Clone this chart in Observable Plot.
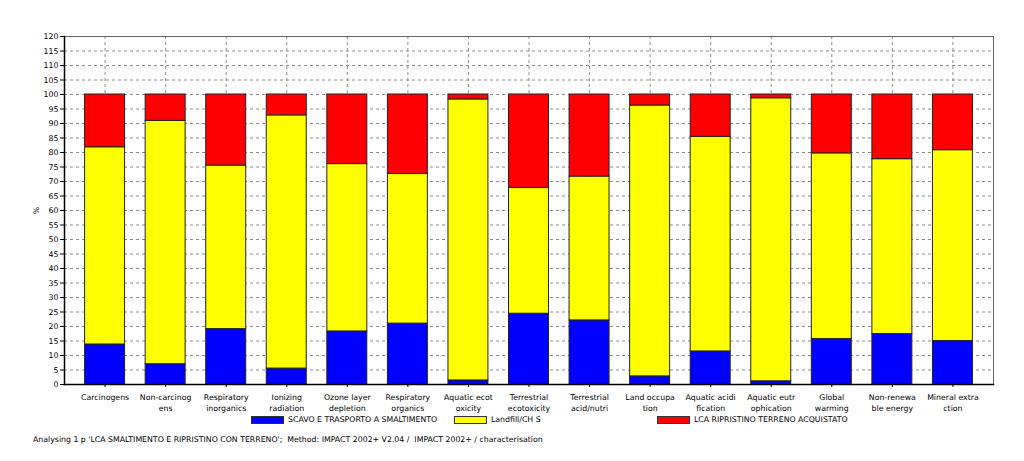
<!DOCTYPE html>
<html><head><meta charset="utf-8">
<script src="https://cdn.jsdelivr.net/npm/d3@7"></script>
<script src="https://cdn.jsdelivr.net/npm/@observablehq/plot@0.6"></script>
<style>
body{margin:0;background:#fff;font-family:"DejaVu Sans",sans-serif;}
#wrap{position:relative;width:1024px;height:461px;overflow:hidden;background:#fff;}
#chart{position:absolute;left:0;top:0;}
.item{position:absolute;top:415px;display:flex;align-items:center;font-size:7.8px;color:#000;white-space:nowrap;}
.sw{width:31px;height:6px;border:1px solid #333;margin-right:4px;}
#cap{position:absolute;left:33px;top:435px;font-size:7.8px;color:#000;white-space:pre;}
</style></head><body>
<div id="wrap"><div id="chart"></div><div id="legend"></div><div id="cap"></div></div>
<script>
const categories = ["Carcinogens","Non-carcinogens","Respiratory inorganics","Ionizing radiation","Ozone layer depletion","Respiratory organics","Aquatic ecotoxicity","Terrestrial ecotoxicity","Terrestrial acid/nutri","Land occupation","Aquatic acidification","Aquatic eutrophication","Global warming","Non-renewable energy","Mineral extraction"];
const tickLabels = ["Carcinogens","Non-carcinog\nens","Respiratory\ninorganics","Ionizing\nradiation","Ozone layer\ndepletion","Respiratory\norganics","Aquatic ecot\noxicity","Terrestrial\necotoxicity","Terrestrial\nacid/nutri","Land occupa\ntion","Aquatic acidi\nfication","Aquatic eutr\nophication","Global\nwarming","Non-renewa\nble energy","Mineral extra\nction"];
const series = ["SCAVO E TRASPORTO A SMALTIMENTO","Landfill/CH S","LCA RIPRISTINO TERRENO ACQUISTATO"];
const colors = ["#0000ff","#ffff00","#ff0000"];
const scavo =      [13.8, 7.0, 19.1, 5.5, 18.3, 21.0, 1.4, 24.4, 22.1, 2.8, 11.4, 1.1, 15.7, 17.4, 15.0];
const landfill =   [68.0, 83.9, 56.4, 87.3, 57.7, 51.6, 96.9, 43.4, 49.6, 93.4, 74.0, 97.6, 64.0, 60.3, 65.8];
const ripristino = [18.2, 9.1, 24.5, 7.2, 24.0, 27.4, 1.7, 32.2, 28.3, 3.8, 14.6, 1.3, 20.3, 22.3, 19.2];
const yTicks = [0,5,10,15,20,25,30,35,40,45,50,55,60,65,70,75,80,85,90,95,100,105,110,115,120];
const yGrid = [5,10,15,20,25,30,35,40,45,50,55,60,65,70,75,80,85,90,95,100,105,110,115];
const yLabel = "%";
const caption = "Analysing 1 p 'LCA SMALTIMENTO E RIPRISTINO CON TERRENO';  Method: IMPACT 2002+ V2.04 /  IMPACT 2002+ / characterisation";

const valuesBySeries = [scavo, landfill, ripristino];
const table = [];
series.forEach((s, si) => categories.forEach((c, ci) => table.push({cat: c, series: s, value: valuesBySeries[si][ci]})));
const labelOf = new Map(categories.map((c, i) => [c, tickLabels[i]]));

const chart = Plot.plot({
  width: 1024, height: 416,
  marginTop: 36, marginBottom: 32, marginLeft: 64, marginRight: 31,
  style: {fontFamily: "DejaVu Sans", fontSize: "7.8px", background: "#fff", color: "#000"},
  x: {domain: categories, padding: 0.34, round: false, label: null},
  y: {domain: [0, 120], label: null},
  color: {domain: series, range: colors},
  marks: [
    Plot.gridY(yGrid, {stroke: "#8c8c8c", strokeOpacity: 1, strokeDasharray: "3,3"}),
    Plot.gridX({stroke: "#8c8c8c", strokeOpacity: 1, strokeDasharray: "3,3"}),
    Plot.barY(table, {x: "cat", y: "value", fill: "series", stroke: "#222", strokeWidth: 1}),
    Plot.frame({stroke: "#666"}),
    Plot.frame({anchor: "left", stroke: "#000", strokeWidth: 1.5}),
    Plot.frame({anchor: "bottom", stroke: "#000", strokeWidth: 1.5}),
    Plot.axisY({ticks: yTicks, tickSize: 4, tickPadding: 2, label: yLabel, labelAnchor: "center", labelOffset: 31, labelArrow: "none"}),
    Plot.axisX({tickSize: 3, tickPadding: 5, label: null, tickFormat: d => labelOf.get(d), lineHeight: 1.35})
  ]
});
document.getElementById("chart").appendChild(chart);

const legendX = [251, 454, 657];
const legend = document.getElementById("legend");
series.forEach((s, i) => {
  const it = document.createElement("div");
  it.className = "item";
  it.style.left = legendX[i] + "px";
  it.innerHTML = `<span class="sw" style="background:${colors[i]}"></span><span>${s}</span>`;
  legend.appendChild(it);
});
document.getElementById("cap").textContent = caption;
</script>
</body></html>
